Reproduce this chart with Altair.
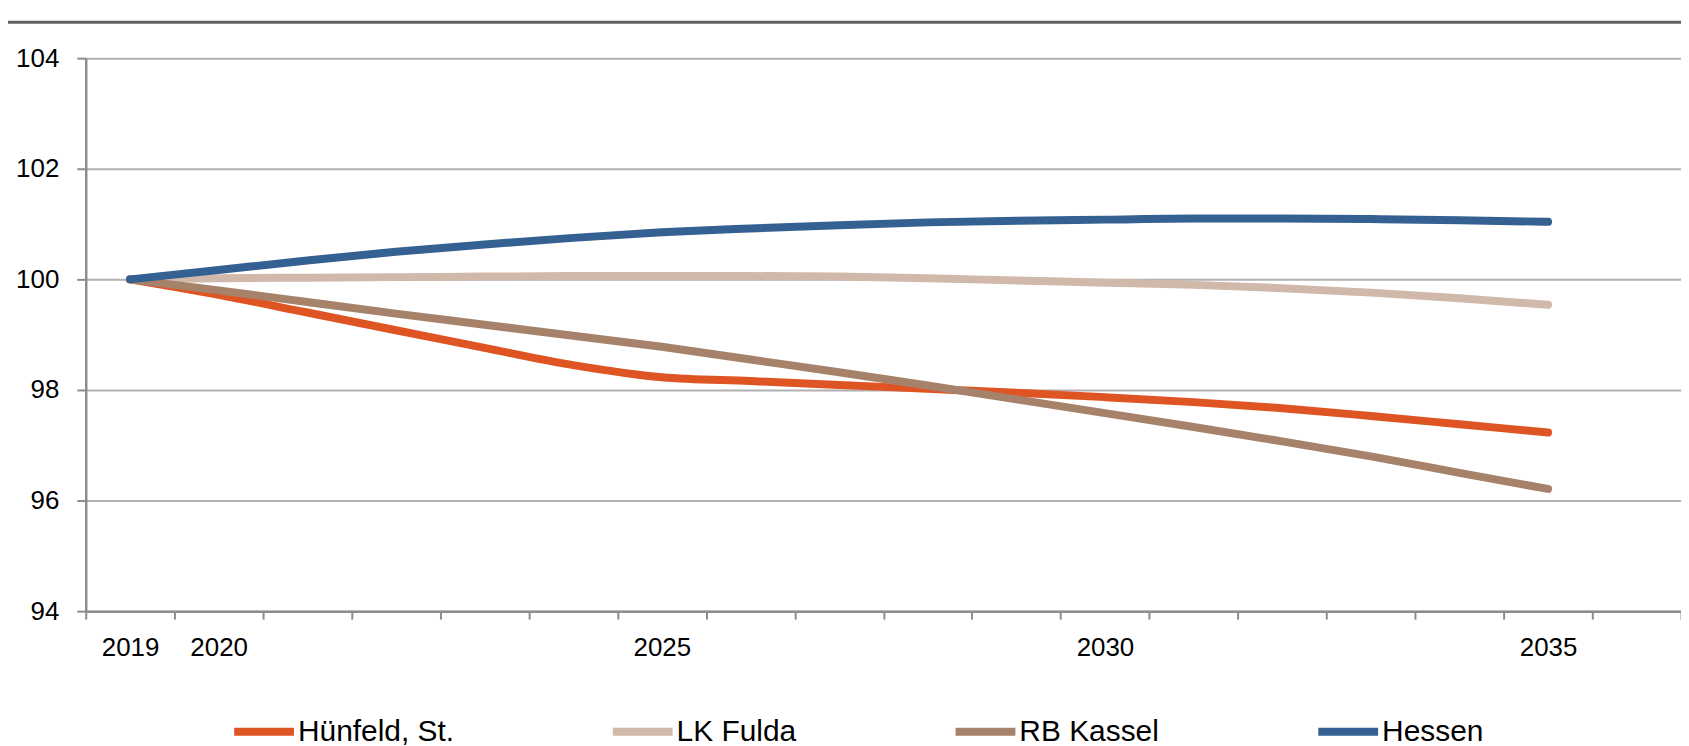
import altair as alt
import pandas as pd

years = [str(y) for y in range(2019, 2036)]
all_years = [str(y) for y in range(2019, 2037)]
shown_labels = ["2019", "2020", "2025", "2030", "2035"]

series_names = ["Hünfeld, St.", "LK Fulda", "RB Kassel", "Hessen"]
series_colors = ["#DF5423", "#D0B8AA", "#A7826A", "#356092"]

huenfeld = [100.0, 99.72, 99.40, 99.08, 98.76, 98.45, 98.23, 98.16, 98.09, 98.02,
            97.95, 97.87, 97.78, 97.67, 97.53, 97.38, 97.23]
lk_fulda = [100.0, 100.02, 100.03, 100.04, 100.05, 100.06, 100.06, 100.06, 100.05,
            100.02, 99.98, 99.94, 99.90, 99.84, 99.76, 99.66, 99.54]
rb_kassel = [100.0, 99.80, 99.59, 99.38, 99.18, 98.98, 98.78, 98.55, 98.32, 98.08,
             97.83, 97.58, 97.33, 97.07, 96.80, 96.50, 96.21]
hessen = [100.0, 100.17, 100.34, 100.50, 100.63, 100.75, 100.85, 100.92, 100.98,
          101.03, 101.06, 101.08, 101.10, 101.10, 101.09, 101.07, 101.04]

y_ticks = [94, 96, 98, 100, 102, 104]

rows = []
for name, vals in zip(series_names, [huenfeld, lk_fulda, rb_kassel, hessen]):
    for yr, v in zip(years, vals):
        rows.append({"Jahr": yr, "Wert": v, "Reihe": name})
df = pd.DataFrame(rows)

FONT = "'Liberation Sans', Arial, sans-serif"
label_test = " || ".join([f"datum.label == '{l}'" for l in shown_labels])

W, H = 1601, 555

lines = alt.Chart(df).mark_line(strokeWidth=8, strokeCap="round", strokeJoin="round",
                                interpolate="monotone").encode(
    x=alt.X("Jahr:O",
            scale=alt.Scale(type="band", domain=all_years, paddingInner=0, paddingOuter=0),
            axis=alt.Axis(title=None, labelAngle=0, tickBand="extent",
                          labelExpr=f"({label_test}) ? datum.label : ''",
                          labelFont=FONT, labelFontSize=26, labelColor="#000000",
                          labelPadding=16, tickColor="#8C8C8C", tickWidth=2, tickSize=8,
                          domainColor="#8C8C8C", domainWidth=2.5, grid=False)),
    y=alt.Y("Wert:Q",
            scale=alt.Scale(domain=[94, 104], nice=False, zero=False),
            axis=alt.Axis(title=None, values=y_ticks, format="d",
                          labelFont=FONT, labelFontSize=26, labelColor="#000000",
                          labelPadding=18, tickColor="#8C8C8C", tickWidth=2, tickSize=9,
                          domainColor="#8C8C8C", domainWidth=2.5,
                          grid=True, gridColor="#B0B0B0", gridWidth=2)),
    color=alt.Color("Reihe:N",
                    scale=alt.Scale(domain=series_names, range=series_colors),
                    legend=alt.Legend(title=None, orient="none", direction="horizontal",
                                      columns=4, legendX=145, legendY=642,
                                      symbolType="stroke", symbolSize=3600,
                                      symbolStrokeWidth=8, labelOffset=0,
                                      labelFont=FONT, labelFontSize=30,
                                      labelColor="#000000", columnPadding=143,
                                      labelLimit=400)),
)

top_rule = alt.Chart(pd.DataFrame({"a": [0]})).mark_rule(
    color="#606060", strokeWidth=3).encode(
    x=alt.value(-78), x2=alt.value(W), y=alt.value(-36))

chart = alt.layer(top_rule, lines).properties(
    width=W, height=H,
    autosize=alt.AutoSizeParams(type="none"),
    padding={"left": 78, "top": 49, "right": 0, "bottom": 134},
).configure_view(stroke=None).configure_axis(labelFontWeight="normal")

chart.save("out.html", embed_options={"renderer": "svg", "actions": False})
